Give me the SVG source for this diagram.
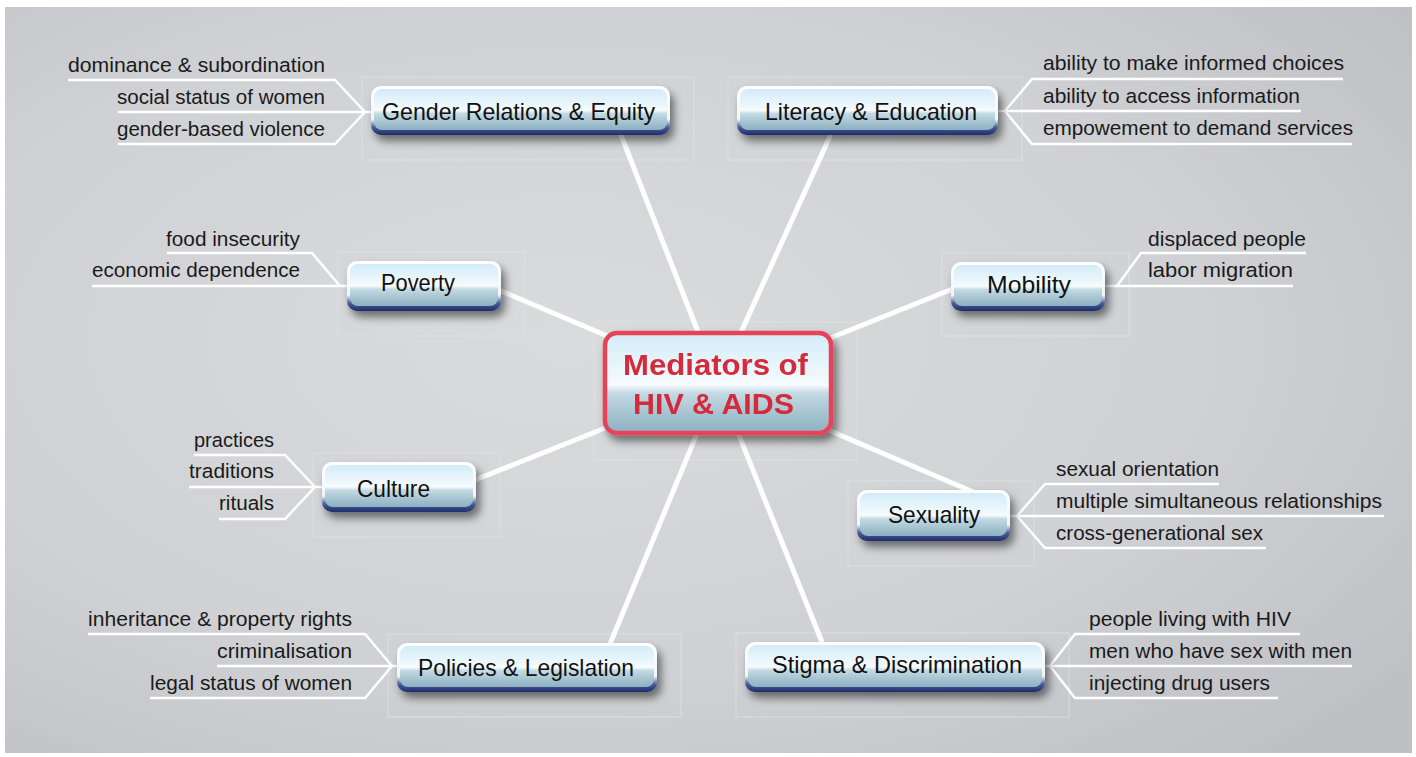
<svg xmlns="http://www.w3.org/2000/svg" width="1416" height="757" viewBox="0 0 1416 757">
<defs>
<radialGradient id="bg" cx="0.4" cy="0.45" r="0.75">
<stop offset="0" stop-color="#dadbdd"/>
<stop offset="0.6" stop-color="#d0d1d4"/>
<stop offset="1" stop-color="#bfc0c4"/>
</radialGradient>
<linearGradient id="rim" x1="0" y1="0" x2="0" y2="1">
<stop offset="0" stop-color="#ffffff"/>
<stop offset="0.68" stop-color="#f2f5f8"/>
<stop offset="0.84" stop-color="#4a5e98"/>
<stop offset="1" stop-color="#1c2d6c"/>
</linearGradient>
<linearGradient id="body" x1="0" y1="0" x2="0" y2="1">
<stop offset="0" stop-color="#d3ecf8"/>
<stop offset="0.42" stop-color="#eef8fc"/>
<stop offset="0.52" stop-color="#f7fbfd"/>
<stop offset="0.6" stop-color="#c4dae4"/>
<stop offset="0.8" stop-color="#a6c4d1"/>
<stop offset="1" stop-color="#8db0c2"/>
</linearGradient>
<filter id="sh" x="-20%" y="-30%" width="140%" height="170%">
<feDropShadow dx="4" dy="6" stdDeviation="4" flood-color="#000" flood-opacity="0.5"/>
</filter>
<style>
.frame{fill:none;stroke:#e4e4e6;stroke-width:1;opacity:0.7}
.spoke{stroke:#ffffff;stroke-width:5;fill:none;stroke-linecap:round}
.sub{stroke:#ffffff;stroke-width:2.5;fill:none;stroke-linejoin:miter}
.lbl{font-family:"Liberation Sans",Arial,sans-serif;font-size:24px;fill:#111;text-anchor:middle}
.it{font-family:"Liberation Sans",Arial,sans-serif;font-size:20.5px;fill:#1a1a1a}
.r{text-anchor:end}
.l{text-anchor:start}
.ctr{font-family:"Liberation Sans",Arial,sans-serif;font-size:30px;font-weight:bold;fill:#d52a3a;text-anchor:middle}
</style>
</defs>
<rect x="0" y="0" width="1416" height="757" fill="#ffffff"/>
<rect x="5" y="7" width="1407" height="746" fill="url(#bg)"/>
<g id="frames">
<rect class="frame" x="362" y="77" width="332" height="83"/>
<rect class="frame" x="728" y="77" width="294" height="83"/>
<rect class="frame" x="338" y="252" width="187" height="84"/>
<rect class="frame" x="942" y="253" width="187" height="83"/>
<rect class="frame" x="594" y="322" width="263" height="138"/>
<rect class="frame" x="313" y="453" width="187" height="84"/>
<rect class="frame" x="848" y="481" width="186" height="85"/>
<rect class="frame" x="388" y="634" width="293" height="83"/>
<rect class="frame" x="736" y="633" width="333" height="84"/>
</g>
<g id="connectors">
<line class="spoke" x1="718" y1="383" x2="612" y2="112"/>
<line class="spoke" x1="718" y1="383" x2="841" y2="112"/>
<line class="spoke" x1="718" y1="383" x2="480" y2="282"/>
<line class="spoke" x1="718" y1="383" x2="980" y2="278"/>
<line class="spoke" x1="718" y1="383" x2="450" y2="490"/>
<line class="spoke" x1="718" y1="383" x2="985" y2="497"/>
<line class="spoke" x1="718" y1="383" x2="600" y2="668"/>
<line class="spoke" x1="718" y1="383" x2="832" y2="667"/>
<polyline class="sub" points="68,80 335,80 365,112"/>
<line class="sub" x1="118" y1="112" x2="372" y2="112"/>
<polyline class="sub" points="118,144 335,144 365,112"/>
<polyline class="sub" points="1343,79 1032,79 1005,111"/>
<line class="sub" x1="996" y1="111" x2="1301" y2="111"/>
<polyline class="sub" points="1352,144 1032,144 1005,111"/>
<polyline class="sub" points="167,253 312,253 340,286"/>
<line class="sub" x1="92" y1="286" x2="349" y2="286"/>
<polyline class="sub" points="1306,253 1141,253 1117,286"/>
<line class="sub" x1="1103" y1="286" x2="1293" y2="286"/>
<polyline class="sub" points="194,455 285,455 315,487"/>
<line class="sub" x1="189" y1="487" x2="324" y2="487"/>
<polyline class="sub" points="219,519 285,519 315,487"/>
<polyline class="sub" points="1219,484 1045,484 1017,516"/>
<line class="sub" x1="1008" y1="516" x2="1384" y2="516"/>
<polyline class="sub" points="1266,548 1045,548 1017,516"/>
<polyline class="sub" points="88,634 365,634 392,666"/>
<line class="sub" x1="217" y1="666" x2="399" y2="666"/>
<polyline class="sub" points="150,698 365,698 392,666"/>
<polyline class="sub" points="1300,634 1075,634 1050,666"/>
<line class="sub" x1="1043" y1="666" x2="1352" y2="666"/>
<polyline class="sub" points="1278,698 1075,698 1050,666"/>
</g>
<g id="center" filter="url(#sh)">
<rect x="605" y="333" width="226" height="100" rx="12" fill="url(#body)" stroke="#e8435a" stroke-width="4.5"/>
<text class="ctr" x="715.5" y="375" textLength="185" lengthAdjust="spacingAndGlyphs">Mediators of</text>
<text class="ctr" x="713.5" y="414" textLength="161" lengthAdjust="spacingAndGlyphs">HIV &amp; AIDS</text>
</g>
<g id="gender">
<g filter="url(#sh)">
<rect x="371" y="86" width="299" height="49" rx="10" fill="url(#rim)"/>
<rect x="374" y="89" width="293" height="41" rx="8" fill="url(#body)"/>
</g>
<text class="lbl" x="518.5" y="120" textLength="273" lengthAdjust="spacingAndGlyphs">Gender Relations &amp; Equity</text>
<text class="it r" x="325" y="72" textLength="257" lengthAdjust="spacingAndGlyphs">dominance &amp; subordination</text>
<text class="it r" x="325" y="104" textLength="208" lengthAdjust="spacingAndGlyphs">social status of women</text>
<text class="it r" x="325" y="136" textLength="208" lengthAdjust="spacingAndGlyphs">gender-based violence</text>
</g>
<g id="literacy">
<g filter="url(#sh)">
<rect x="737" y="86" width="261" height="49" rx="10" fill="url(#rim)"/>
<rect x="740" y="89" width="255" height="41" rx="8" fill="url(#body)"/>
</g>
<text class="lbl" x="871" y="120" textLength="212" lengthAdjust="spacingAndGlyphs">Literacy &amp; Education</text>
<text class="it l" x="1043" y="70" textLength="301" lengthAdjust="spacingAndGlyphs">ability to make informed choices</text>
<text class="it l" x="1043" y="103" textLength="257" lengthAdjust="spacingAndGlyphs">ability to access information</text>
<text class="it l" x="1043" y="135" textLength="310" lengthAdjust="spacingAndGlyphs">empowement to demand services</text>
</g>
<g id="poverty">
<g filter="url(#sh)">
<rect x="347" y="261" width="154" height="50" rx="10" fill="url(#rim)"/>
<rect x="350" y="264" width="148" height="42" rx="8" fill="url(#body)"/>
</g>
<text class="lbl" x="418" y="291" textLength="74" lengthAdjust="spacingAndGlyphs">Poverty</text>
<text class="it r" x="300" y="246" textLength="134" lengthAdjust="spacingAndGlyphs">food insecurity</text>
<text class="it r" x="300" y="277" textLength="208" lengthAdjust="spacingAndGlyphs">economic dependence</text>
</g>
<g id="mobility">
<g filter="url(#sh)">
<rect x="951" y="262" width="154" height="49" rx="10" fill="url(#rim)"/>
<rect x="954" y="265" width="148" height="41" rx="8" fill="url(#body)"/>
</g>
<text class="lbl" x="1029" y="293" textLength="84" lengthAdjust="spacingAndGlyphs">Mobility</text>
<text class="it l" x="1148" y="246" textLength="158" lengthAdjust="spacingAndGlyphs">displaced people</text>
<text class="it l" x="1148" y="277" textLength="145" lengthAdjust="spacingAndGlyphs">labor migration</text>
</g>
<g id="culture">
<g filter="url(#sh)">
<rect x="322" y="462" width="154" height="50" rx="10" fill="url(#rim)"/>
<rect x="325" y="465" width="148" height="42" rx="8" fill="url(#body)"/>
</g>
<text class="lbl" x="393.5" y="497" textLength="73" lengthAdjust="spacingAndGlyphs">Culture</text>
<text class="it r" x="274" y="447" textLength="80" lengthAdjust="spacingAndGlyphs">practices</text>
<text class="it r" x="274" y="478" textLength="85" lengthAdjust="spacingAndGlyphs">traditions</text>
<text class="it r" x="274" y="510" textLength="55" lengthAdjust="spacingAndGlyphs">rituals</text>
</g>
<g id="sexuality">
<g filter="url(#sh)">
<rect x="857" y="490" width="153" height="51" rx="10" fill="url(#rim)"/>
<rect x="860" y="493" width="147" height="43" rx="8" fill="url(#body)"/>
</g>
<text class="lbl" x="934" y="523" textLength="92" lengthAdjust="spacingAndGlyphs">Sexuality</text>
<text class="it l" x="1056" y="476" textLength="163" lengthAdjust="spacingAndGlyphs">sexual orientation</text>
<text class="it l" x="1056" y="508" textLength="326" lengthAdjust="spacingAndGlyphs">multiple simultaneous relationships</text>
<text class="it l" x="1056" y="540" textLength="207" lengthAdjust="spacingAndGlyphs">cross-generational sex</text>
</g>
<g id="policies">
<g filter="url(#sh)">
<rect x="397" y="643" width="260" height="49" rx="10" fill="url(#rim)"/>
<rect x="400" y="646" width="254" height="41" rx="8" fill="url(#body)"/>
</g>
<text class="lbl" x="526" y="676" textLength="216" lengthAdjust="spacingAndGlyphs">Policies &amp; Legislation</text>
<text class="it r" x="352" y="626" textLength="264" lengthAdjust="spacingAndGlyphs">inheritance &amp; property rights</text>
<text class="it r" x="352" y="658" textLength="135" lengthAdjust="spacingAndGlyphs">criminalisation</text>
<text class="it r" x="352" y="690" textLength="202" lengthAdjust="spacingAndGlyphs">legal status of women</text>
</g>
<g id="stigma">
<g filter="url(#sh)">
<rect x="745" y="642" width="300" height="50" rx="10" fill="url(#rim)"/>
<rect x="748" y="645" width="294" height="42" rx="8" fill="url(#body)"/>
</g>
<text class="lbl" x="897" y="673" textLength="250" lengthAdjust="spacingAndGlyphs">Stigma &amp; Discrimination</text>
<text class="it l" x="1089" y="626" textLength="202" lengthAdjust="spacingAndGlyphs">people living with HIV</text>
<text class="it l" x="1089" y="658" textLength="263" lengthAdjust="spacingAndGlyphs">men who have sex with men</text>
<text class="it l" x="1089" y="690" textLength="181" lengthAdjust="spacingAndGlyphs">injecting drug users</text>
</g>
</svg>
